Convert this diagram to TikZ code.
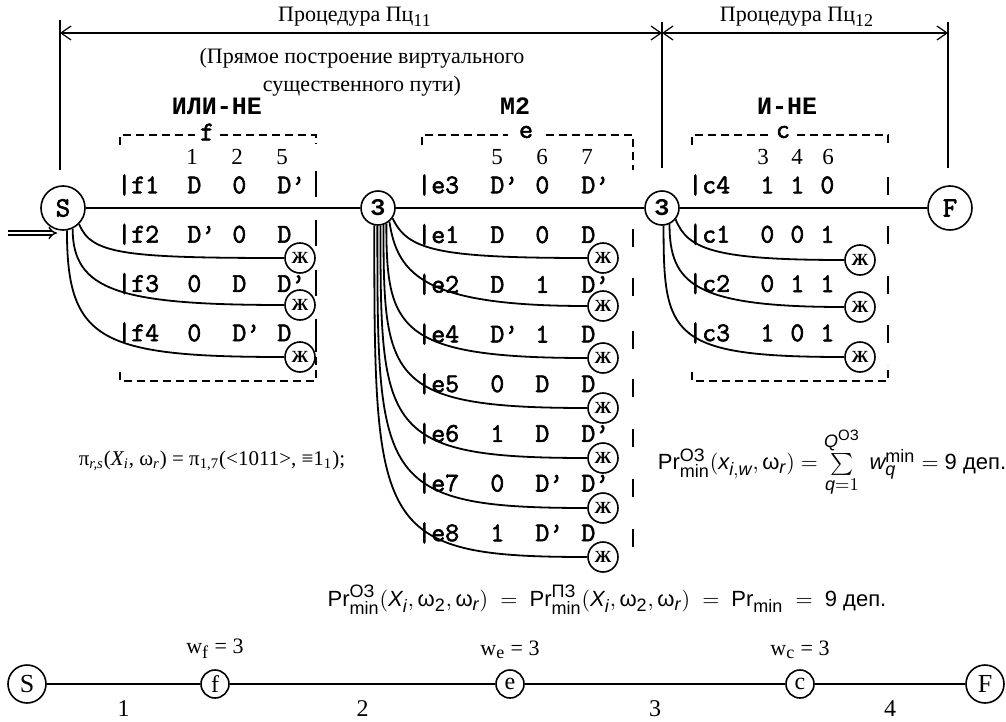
\documentclass[tikz,border=0pt]{standalone}
\usepackage{amsmath}
\usepackage{fontspec}
\setmainfont{Liberation Serif}
\setsansfont{Liberation Sans}
\setmonofont{Liberation Mono}
\newfontfamily\typew{Latin Modern Mono}[FakeBold=2.2]
\DeclareMathSizes{11}{11}{9}{7.5}
\usetikzlibrary{positioning,arrows.meta}
\tikzset{
  wire/.style={line width=0.9pt},
  dimline/.style={line width=0.6pt, {Straight Barb[length=5pt,width=7pt]}-{Straight Barb[length=5pt,width=7pt]}},
  inarrow/.style={double, double distance=1.4pt, line width=0.7pt, -{Implies}},
  bracket/.style={line width=0.8pt, dash pattern=on 4pt off 2.5pt},
  rbar/.style={line width=0.9pt},
  lbl/.style={font=\fontsize{11}{14}\selectfont, inner sep=0pt},
  colnum/.style={font=\fontsize{11.5}{12}\selectfont, inner sep=0pt},
  cell/.style={font=\fontsize{13.5}{13.5}\selectfont\typew, inner sep=0pt, anchor=west},
  gatehead/.style={font=\fontsize{12.5}{13}\selectfont\ttfamily\bfseries, inner sep=0pt},
  term/.style={circle, draw, line width=0.8pt, minimum size=22pt, inner sep=0pt, fill=white,
    font=\fontsize{14}{14}\selectfont\typew},
  joint/.style={term, minimum size=17pt, font=\fontsize{12}{12}\selectfont\ttfamily\bfseries},
  dead/.style={circle, draw, line width=0.8pt, minimum size=15pt, inner sep=0pt, fill=white,
    font=\fontsize{8.5}{9}\selectfont\bfseries},
  bterm/.style={circle, draw, line width=0.8pt, minimum size=19pt, inner sep=0pt, fill=white,
    font=\fontsize{13}{13}\selectfont},
  pnode/.style={bterm, minimum size=14pt, font=\fontsize{12}{12}\selectfont},
  steplbl/.style={lbl, font=\fontsize{12}{12}\selectfont, below=8pt},
  formula/.style={font=\fontsize{10.5}{13}\selectfont, inner sep=0pt},
  sfformula/.style={font=\fontsize{11}{13}\selectfont\sffamily, inner sep=0pt},
}

\begin{document}
\begin{tikzpicture}[x=0.5pt, y=-0.5pt]
  \useasboundingbox (0,0) rectangle (1006,722);
  % границы процедур
  \coordinate (v0) at (60,20);
  \coordinate (v1) at (662,22);
  \coordinate (v2) at (948,22);
  \coordinate (a0) at (60,33);
  \coordinate (a1) at (662,33);
  \coordinate (a2) at (948,33);
  \draw[wire] (v0) -- ++(0,150);
  \draw[wire] (v1) -- ++(0,146);
  \draw[wire] (v2) -- ++(0,146);
  \draw[dimline] (a0) -- (a1);
  \draw[dimline] (a1) -- (a2);
  \node[lbl] (p11) at (355,17) {Процедура Пц\textsubscript{11}};
  \node[lbl] (p12) at (797,17) {Процедура Пц\textsubscript{12}};
  \node[lbl, align=center] (note) at (362,72) {(Прямое построение виртуального\\существенного пути)};
  % элементы
  \node[gatehead] (gf) at (217,106) {ИЛИ-НЕ};
  \node[gatehead] (ge) at (515,106) {М2};
  \node[gatehead] (gc) at (787,106) {И-НЕ};
  % основной путь
  \node[term] (S) at (63,208) {S};
  \node[joint] (Z1) at (378,208) {З};
  \node[joint] (Z2) at (662,208) {З};
  \node[term] (F) at (950,208) {F};
  \draw[wire] (S) -- (Z1);
  \draw[wire] (Z1) -- (Z2);
  \draw[wire] (Z2) -- (F);
  \coordinate (in0) at (8,233);
  \coordinate (in1) at (57,233);
  \draw[inarrow] (in0) -- (in1);

  % группа f
  \draw[bracket] (120,145) -- (120,135) -- (195,135);
  \node[cell, anchor=center] (fn) at (207,132) {f};
  \draw[bracket] (220,135) -- (316,135) -- (316,144);
  \foreach \t/\x in {1/192,2/237,5/282}
    \node[colnum] (nf\t) at (\x,157) {\t};
  \foreach \n/\a/\b/\c [count=\i from 0] in {f1/D/0/D’, f2/D’/0/D, f3/0/D/D’, f4/0/D’/D}{
    \pgfmathsetmacro\yy{185+49.3*\i}
    \node[cell] (rf\i) at (117,\yy) {|\n};
    \node[cell] (rf\i a) at (187,\yy) {\a};
    \node[cell] (rf\i b) at (232,\yy) {\b};
    \node[cell] (rf\i c) at (277,\yy) {\c};
    \draw[rbar] (316,\yy-14) -- (316,\yy+12);
  }
  \draw[bracket] (120,372) -- (120,381) -- (316,381) -- (316,340);
  \foreach \k/\y in {2/258,3/305,4/357}
    \node[dead] (jf\k) at (300,\y) {Ж};
  \draw[wire] (S.-45) .. controls +(12,30) and +(-160,0) .. (jf2.west);
  \draw[wire] (S.-65) .. controls +(0,62) and +(-165,0) .. (jf3.west);
  \draw[wire] (S.-80) .. controls +(0,110) and +(-185,0) .. (jf4.west);

  % группа e
  \draw[bracket] (422,145) -- (422,135) -- (508,135);
  \node[cell, anchor=center] (en) at (526,132) {e};
  \draw[bracket] (546,135) -- (633,135) -- (633,170);
  \foreach \t/\x in {5/497,6/542,7/587}
    \node[colnum] (ne\t) at (\x,157) {\t};
  \foreach \n/\a/\b/\c [count=\i from 0] in {e3/D’/0/D’, e1/D/0/D, e2/D/1/D’, e4/D’/1/D,
      e5/0/D/D, e6/1/D/D’, e7/0/D’/D’, e8/1/D’/D}{
    \pgfmathsetmacro\yy{185+49.7*\i}
    \node[cell] (re\i) at (417,\yy) {|\n};
    \node[cell] (re\i a) at (490,\yy) {\a};
    \node[cell] (re\i b) at (535,\yy) {\b};
    \node[cell] (re\i c) at (581,\yy) {\c};
  }
  \foreach \y in {233,282,335,383,433,483,533}
    \draw[rbar] (633,\y-4) -- (633,\y+14);
  \foreach \k/\y in {1/258,2/306,4/358,5/408,6/458,7/508,8/557}
    \node[dead] (je\k) at (603,\y) {Ж};
  \foreach \k/\a/\dx/\dy/\b in {1/-35/15/32/150, 2/-50/8/55/160, 4/-62/0/105/190,
      5/-72/0/155/200, 6/-82/0/205/205, 7/-92/0/255/210, 8/-102/0/305/212}
    \draw[wire] (Z1.\a) .. controls +(\dx,\dy) and +(-\b,0) .. (je\k.west);

  % группа c
  \draw[bracket] (692,145) -- (692,135) -- (771,135);
  \node[cell, anchor=center] (cn) at (783,132) {c};
  \draw[bracket] (797,135) -- (888,135) -- (888,147);
  \foreach \t/\x in {3/763,4/797,6/828}
    \node[colnum] (nc\t) at (\x,157) {\t};
  \foreach \n/\a/\b/\c [count=\i from 0] in {c4/1/1/0, c1/0/0/1, c2/0/1/1, c3/1/0/1}{
    \pgfmathsetmacro\yy{185+49.3*\i}
    \node[cell] (rc\i) at (688,\yy) {|\n};
    \node[cell] (rc\i a) at (760,\yy) {\a};
    \node[cell] (rc\i b) at (790,\yy) {\b};
    \node[cell] (rc\i c) at (820,\yy) {\c};
    \draw[rbar] (888,\yy-8) -- (888,\yy+10);
  }
  \draw[bracket] (692,372) -- (692,381) -- (888,381) -- (888,365);
  \foreach \k/\y in {1/260,2/307,3/357}
    \node[dead] (jc\k) at (860,\y) {Ж};
  \draw[wire] (Z2.-40) .. controls +(12,30) and +(-130,0) .. (jc1.west);
  \draw[wire] (Z2.-65) .. controls +(0,60) and +(-150,0) .. (jc2.west);
  \draw[wire] (Z2.-85) .. controls +(0,110) and +(-175,0) .. (jc3.west);

  % формулы
  \node[formula] (pi) at (212,461) {π\textsubscript{\textit{r,s}}(\textit{X\textsubscript{i}}, ω\textsubscript{\textit{r}}) = π\textsubscript{1,7}(<1011>, ≡1\textsubscript{1});};
  \node[sfformula] (proz) at (832,462) {$\text{Pr}^{\text{ОЗ}}_{\text{min}}(\textit{x}_{\textit{i},\textit{w}},\text{ω}_{\textit{r}}) = \sum\limits_{\textit{q}=1}^{\textit{Q}^{\text{ОЗ}}}\; \textit{w}_{\textit{q}}^{\text{min}} = \text{9 деп.}$};
  \node[sfformula] (prall) at (607,600) {$\text{Pr}^{\text{ОЗ}}_{\text{min}}(\textit{X}_{\textit{i}},\text{ω}_{\text{2}},\text{ω}_{\textit{r}}) \;=\; \text{Pr}^{\text{ПЗ}}_{\text{min}}(\textit{X}_{\textit{i}},\text{ω}_{\text{2}},\text{ω}_{\textit{r}}) \;=\; \text{Pr}_{\text{min}} \;=\; \text{9 деп.}$};

  % путь S-f-e-c-F
  \node[bterm] (bS) at (27,684) {S};
  \node[pnode] (bf) at (215,684) {f};
  \node[pnode] (be) at (510,684) {e};
  \node[pnode] (bc) at (800,684) {c};
  \node[bterm] (bF) at (985,684) {F};
  \draw[wire] (bS) -- node[steplbl] (n1) {1} (bf);
  \draw[wire] (bf) -- node[steplbl] (n2) {2} (be);
  \draw[wire] (be) -- node[steplbl] (n3) {3} (bc);
  \draw[wire] (bc) -- node[steplbl] (n4) {4} (bF);
  \node[lbl, above=5pt of bf] (wf) {w\textsubscript{f} = 3};
  \node[lbl, above=5pt of be] (we) {w\textsubscript{e} = 3};
  \node[lbl, above=5pt of bc] (wc) {w\textsubscript{c} = 3};
\end{tikzpicture}
\end{document}
